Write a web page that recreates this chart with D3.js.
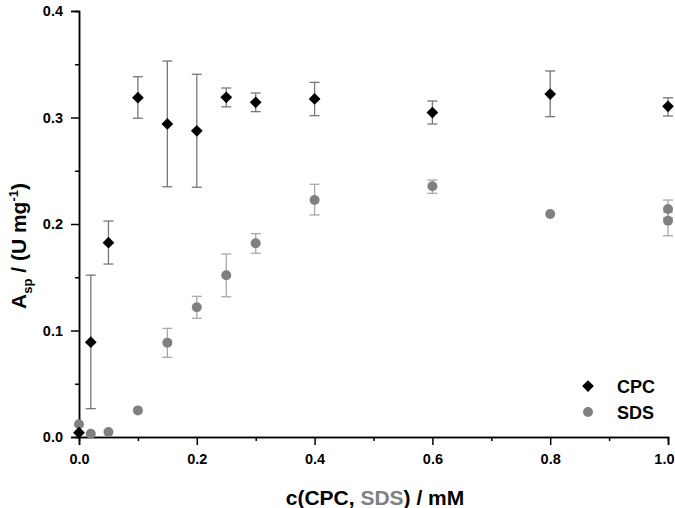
<!DOCTYPE html>
<html>
<head>
<meta charset="utf-8">
<script src="https://cdn.jsdelivr.net/npm/d3@7"></script>
<style>
  body { margin: 0; background: #fff; }
  text { font-family: "Liberation Sans", Arial, sans-serif; font-weight: bold; }
</style>
</head>
<body>
<div id="chart"></div>
<script>
// DATA
const cpcX    = [0.0, 0.02, 0.05, 0.1, 0.15, 0.2, 0.25, 0.3, 0.4, 0.6, 0.8, 1.0];
const cpcY    = [0.004, 0.089, 0.1825, 0.3186, 0.294, 0.2875, 0.319, 0.3143, 0.3174, 0.3046, 0.322, 0.3105];
const cpcLow  = [null, 0.0266, 0.1624, 0.2993, 0.235, 0.2345, 0.310, 0.3055, 0.3017, 0.2939, 0.3008, 0.3014];
const cpcHigh = [null, 0.152, 0.2028, 0.3383, 0.353, 0.3406, 0.3277, 0.323, 0.333, 0.3155, 0.3437, 0.3185];

const sdsX    = [0.0, 0.02, 0.05, 0.1, 0.15, 0.2, 0.25, 0.3, 0.4, 0.6, 0.8, 1.0, 1.0];
const sdsY    = [0.012, 0.003, 0.0047, 0.025, 0.0886, 0.1218, 0.1518, 0.1819, 0.2225, 0.2354, 0.2094, 0.2141, 0.2031];
const sdsLow  = [null, null, null, null, 0.0748, 0.1115, 0.1317, 0.1725, 0.2085, 0.2288, null, 0.2060, 0.189];
const sdsHigh = [null, null, null, null, 0.102, 0.1321, 0.1718, 0.1909, 0.2373, 0.2413, null, 0.2225, 0.2110];

const xTicks = [0.0, 0.2, 0.4, 0.6, 0.8, 1.0];
const yTicks = [0.0, 0.1, 0.2, 0.3, 0.4];

const width = 675, height = 508;
const margin = { top: 11, bottom: 71, left: 79, right: 7 };

const svg = d3.select("#chart").append("svg")
  .attr("width", width)
  .attr("height", height);

// SCALES
const xScale = d3.scaleLinear().domain([0, 1]).range([margin.left, width - margin.right]);
const yScale = d3.scaleLinear().domain([0, 0.4]).range([height - margin.bottom, margin.top]);
const y0 = yScale(0);

// AXES
const xMinor = d3.axisBottom(xScale).tickValues(d3.range(0.1, 1, 0.2)).tickSize(4).tickFormat("");
const xAxis = d3.axisBottom(xScale).tickValues(xTicks).tickSize(8).tickPadding(9).tickFormat(d3.format(".1f"));
const yMinor = d3.axisLeft(yScale).tickValues(d3.range(0.05, 0.4, 0.1)).tickSize(4).tickFormat("");
const yAxis = d3.axisLeft(yScale).tickValues(yTicks).tickSize(8).tickPadding(8).tickFormat(d3.format(".1f"));

function styleAxis(g) {
  g.select(".domain").attr("stroke", "#000").attr("stroke-width", 1.5);
  g.selectAll(".tick line").attr("stroke", "#000").attr("stroke-width", 1.5);
  g.selectAll(".tick text").attr("fill", "#000").style("font-size", "14.5px");
}

svg.append("g").attr("transform", `translate(0,${y0})`).call(xMinor).call(styleAxis);
const gx = svg.append("g").attr("transform", `translate(0,${y0})`).call(xAxis).call(styleAxis);
// keep the last label inside the picture
gx.selectAll(".tick text").filter(d => d === 1).attr("text-anchor", "end").attr("dx", 6);
svg.append("g").attr("transform", `translate(${margin.left},0)`).call(yMinor).call(styleAxis);
svg.append("g").attr("transform", `translate(${margin.left},0)`).call(yAxis).call(styleAxis);

// error bars
function errorBars(xs, lows, highs, color) {
  const rows = xs.map((x, i) => ({ x, lo: lows[i], hi: highs[i] })).filter(d => d.lo !== null);
  const g = svg.append("g").attr("stroke", color).attr("stroke-width", 1.3).attr("fill", "none");
  g.selectAll(".v").data(rows).join("line")
    .attr("x1", d => xScale(d.x)).attr("x2", d => xScale(d.x))
    .attr("y1", d => yScale(d.lo)).attr("y2", d => yScale(d.hi));
  g.selectAll(".t").data(rows).join("line")
    .attr("x1", d => xScale(d.x) - 5).attr("x2", d => xScale(d.x) + 5)
    .attr("y1", d => yScale(d.hi)).attr("y2", d => yScale(d.hi));
  g.selectAll(".b").data(rows).join("line")
    .attr("x1", d => xScale(d.x) - 5).attr("x2", d => xScale(d.x) + 5)
    .attr("y1", d => yScale(d.lo)).attr("y2", d => yScale(d.lo));
}

errorBars(sdsX, sdsLow, sdsHigh, "#a8a8a8");
errorBars(cpcX, cpcLow, cpcHigh, "#777777");

const diamond = d3.symbol().type(d3.symbolDiamond2).size(88);

// SDS circles
svg.append("g").selectAll("circle")
  .data(sdsX.map((x, i) => ({ x, y: sdsY[i] })))
  .join("circle")
  .attr("cx", d => xScale(d.x))
  .attr("cy", d => yScale(d.y))
  .attr("r", 5)
  .attr("fill", "#808080");

// CPC diamonds
svg.append("g").selectAll("path")
  .data(cpcX.map((x, i) => ({ x, y: cpcY[i] })))
  .join("path")
  .attr("d", diamond)
  .attr("transform", d => `translate(${xScale(d.x)},${yScale(d.y)})`)
  .attr("fill", "#000");

// legend
const legend = svg.append("g");
legend.append("path").attr("d", diamond).attr("transform", "translate(588,386)").attr("fill", "#000");
legend.append("circle").attr("cx", 588).attr("cy", 412).attr("r", 5).attr("fill", "#808080");
legend.append("text").attr("x", 617).attr("y", 392.5).style("font-size", "18px").text("CPC");
legend.append("text").attr("x", 617).attr("y", 418.5).style("font-size", "18px").text("SDS");

// x title
const xt = svg.append("text")
  .attr("x", 375)
  .attr("y", 505)
  .attr("text-anchor", "middle")
  .style("font-size", "21px");
xt.append("tspan").text("c(CPC, ");
xt.append("tspan").attr("fill", "#808080").text("SDS");
xt.append("tspan").text(") / mM");

// y title
const yt = svg.append("text")
  .attr("transform", `translate(26,246) rotate(-90)`)
  .attr("text-anchor", "middle")
  .style("font-size", "21px");
yt.append("tspan").text("A");
yt.append("tspan").attr("dy", 6).style("font-size", "13px").text("sp");
yt.append("tspan").attr("dy", -6).text(" / (U mg");
yt.append("tspan").attr("dy", -8).style("font-size", "13px").text("-1");
yt.append("tspan").attr("dy", 8).text(")");
</script>
</body>
</html>
